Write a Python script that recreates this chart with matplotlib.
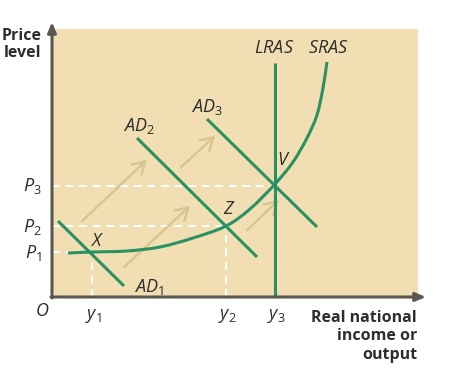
import matplotlib
matplotlib.use("Agg")
import matplotlib.pyplot as plt
from matplotlib.patches import FancyArrowPatch, PathPatch
from matplotlib.path import Path

plt.rcParams['font.family'] = ['Open Sans', 'DejaVu Sans']
plt.rcParams['mathtext.fontset'] = 'custom'
plt.rcParams['mathtext.it'] = 'Open Sans:italic'
plt.rcParams['mathtext.rm'] = 'Open Sans'

# ---- data (chart units: x = output, y = price level) ----
price_levels = [45, 71, 111.5]          # P1, P2, P3
price_labels = ['P_1', 'P_2', 'P_3']
output_levels = [40, 174, 223]          # y1, y2, y3
output_labels = ['y_1', 'y_2', 'y_3']

sras_x = [16, 40, 75, 108, 141, 174, 198, 223, 241, 255, 265, 271, 275]
sras_y = [44, 45, 46, 50, 59, 71, 88, 113, 135, 159, 182, 209, 235]

lras_x = [223, 223]
lras_y = [0, 234]

ad1_x = [6, 72];    ad1_y = [76, 11]
ad2_x = [85, 205];  ad2_y = [159, 40]
ad3_x = [155, 265]; ad3_y = [178, 70]

shift_tails = [(28, 74), (127, 128), (70, 28), (193, 65)]
shift_heads = [(97, 139), (165, 163), (140, 93), (229, 99)]

points = ['X', 'Z', 'V']
point_pos = [(46, 56), (177, 88), (232, 137)]

curve_labels = [r'$AD_{\mathrm{1}}$', r'$AD_{\mathrm{2}}$', r'$AD_{\mathrm{3}}$', r'$LRAS$', r'$SRAS$']
curve_label_pos = [(97, 10), (87, 171), (155, 190), (222, 249), (276, 249)]

# ---- styles ----
BG = '#f1deb3'
GREEN = '#2a9162'
AXIS = '#5b5650'
TAN = '#d9c592'
TXT = '#2e2e2e'

fig = plt.figure(figsize=(4.58, 3.84), dpi=100)
W, H = 458, 384
ax = fig.add_axes([52 / W, (H - 297) / H, 366 / W, 268 / H])
ax.set_xlim(0, 366)
ax.set_ylim(0, 268)
ax.set_facecolor(BG)
for s in ax.spines.values():
    s.set_visible(False)
ax.set_xticks([]); ax.set_yticks([])

# dashed guide lines
guide_x_end = [output_levels[0], output_levels[1], output_levels[2]]
for p, xe in zip(price_levels, guide_x_end):
    ax.plot([0, xe], [p, p], color='white', lw=1.4, ls=(0, (4, 3)), zorder=2)
for o, p in zip(output_levels[:2], price_levels[:2]):
    ax.plot([o, o], [0, p], color='white', lw=1.4, ls=(0, (4, 3)), zorder=2)

# shift arrows
for t, h in zip(shift_tails, shift_heads):
    ax.add_patch(FancyArrowPatch(t, h, arrowstyle='->,head_length=5,head_width=3',
                                 color=TAN, lw=1.8, mutation_scale=1.7, zorder=3))

# curves
lw = 2.2
# smooth SRAS through the read points (Catmull-Rom rendered as cubic Bezier path)
pts = list(zip(sras_x, sras_y))
verts = [pts[0]]
codes = [Path.MOVETO]
for i in range(len(pts) - 1):
    p0 = pts[i - 1] if i > 0 else pts[i]
    p1 = pts[i]
    p2 = pts[i + 1]
    p3 = pts[i + 2] if i + 2 < len(pts) else pts[i + 1]
    c1 = (p1[0] + (p2[0] - p0[0]) / 6, p1[1] + (p2[1] - p0[1]) / 6)
    c2 = (p2[0] - (p3[0] - p1[0]) / 6, p2[1] - (p3[1] - p1[1]) / 6)
    verts += [c1, c2, p2]
    codes += [Path.CURVE4] * 3
ax.add_patch(PathPatch(Path(verts, codes), facecolor='none', edgecolor=GREEN, lw=lw,
                       capstyle='butt', zorder=4))
ax.plot(lras_x, lras_y, color=GREEN, lw=lw, zorder=4, solid_capstyle='butt')
for xs, ys in [(ad1_x, ad1_y), (ad2_x, ad2_y), (ad3_x, ad3_y)]:
    ax.plot(xs, ys, color=GREEN, lw=lw, zorder=4, solid_capstyle='butt')

# axes with arrows
ax.annotate('', xy=(0, 275), xytext=(0, -1), annotation_clip=False,
            arrowprops=dict(arrowstyle='-|>,head_length=0.6,head_width=0.25', color=AXIS, lw=2.2,
                            shrinkA=0, shrinkB=0), zorder=6)
ax.annotate('', xy=(374, 0), xytext=(-1, 0), annotation_clip=False,
            arrowprops=dict(arrowstyle='-|>,head_length=0.6,head_width=0.25', color=AXIS, lw=2.2,
                            shrinkA=0, shrinkB=0), zorder=6)

fs = 13
# curve labels
for lab, (x, y) in zip(curve_labels, curve_label_pos):
    ax.text(x, y, lab, fontsize=fs, color=TXT, ha='center', va='center', clip_on=False)
for lab, (x, y) in zip(points, point_pos):
    ax.text(x, y, r'$' + lab + '$', fontsize=fs, color=TXT, ha='center', va='center')

# tick-like labels
for lab, p in zip(price_labels, price_levels):
    ax.text(-10, p - 1, r'$' + lab.replace('_', r'_{\mathrm{') + '}}$', fontsize=fs, color=TXT,
            ha='right', va='center', clip_on=False)
for lab, o in zip(output_labels, output_levels):
    ax.text(o + 1, -19, r'$' + lab.replace('_', r'_{\mathrm{') + '}}$', fontsize=fs, color=TXT,
            ha='center', va='center', clip_on=False)
ax.text(-10, -14, r'$O$', fontsize=fs, color=TXT, ha='center', va='center', clip_on=False)

# axis titles
fig.text(1.5 / W, 1 - 28 / H, 'Price\nlevel', fontsize=11.5, fontweight='bold', color=TXT,
         ha='left', va='top', linespacing=1.1, multialignment='right')
fig.text(417 / W, 1 - 310 / H, 'Real national\nincome or\noutput', fontsize=11.5,
         fontweight='bold', color=TXT, ha='right', va='top', linespacing=1.2)

fig.savefig('out.png', dpi=100, facecolor='white')
